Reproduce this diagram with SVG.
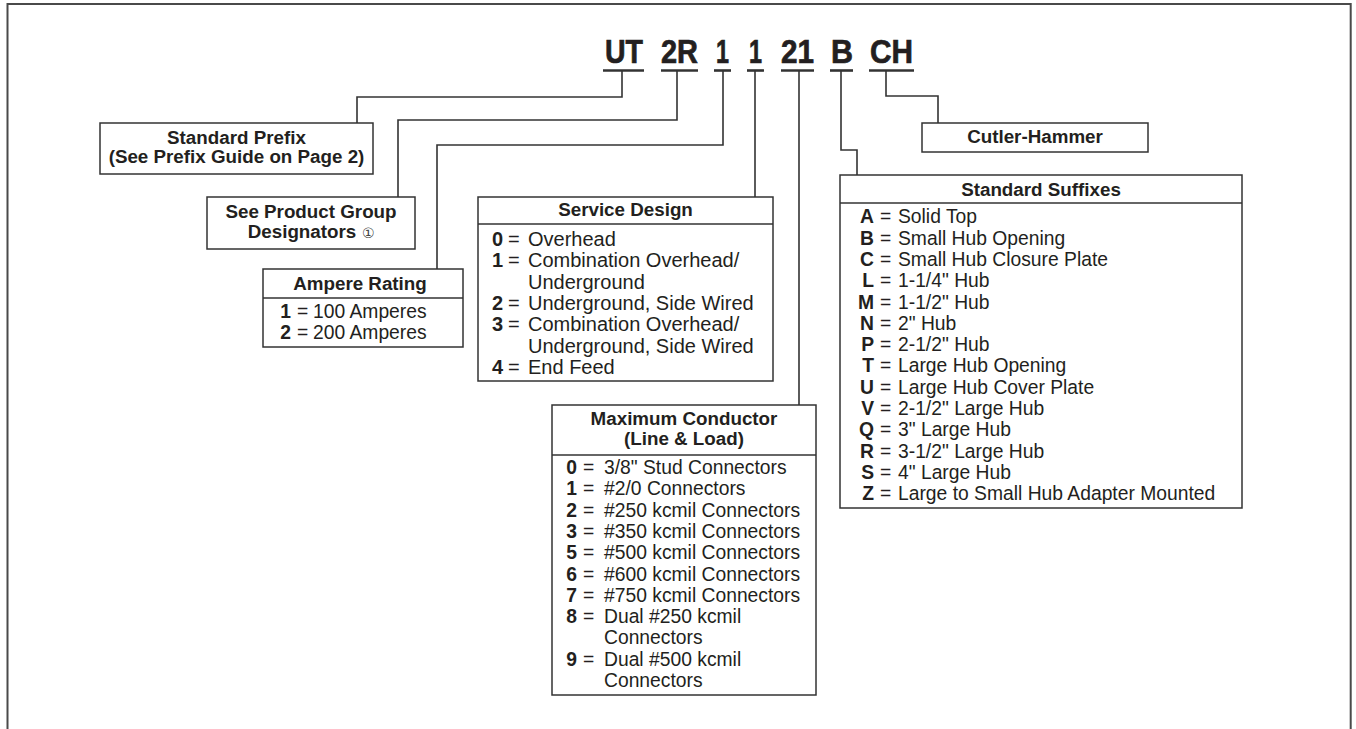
<svg xmlns="http://www.w3.org/2000/svg" width="1356" height="729" viewBox="0 0 1356 729">
<style>
.frame{fill:none;stroke:#4a4a4a;stroke-width:2}
.box{fill:#fff;stroke:#333;stroke-width:1.5}
.div{stroke:#333;stroke-width:1.5}
.conn{fill:none;stroke:#333;stroke-width:1.6}
.ul{stroke:#333;stroke-width:2.6}
.code{font-family:"Liberation Sans",Arial,sans-serif;font-weight:bold;font-size:33px;fill:#231f20;stroke:#231f20;stroke-width:0.7}
.t{font-family:"Liberation Sans",Arial,sans-serif;font-size:19.3px;fill:#231f20}
.sd .t,.sd .k{font-size:20px}
.h{font-family:"Liberation Sans",Arial,sans-serif;font-size:18.8px;font-weight:bold;fill:#231f20;text-anchor:middle}
.k{font-family:"Liberation Sans",Arial,sans-serif;font-size:19.3px;font-weight:bold;fill:#231f20;text-anchor:end}
.c{font-family:"DejaVu Sans",sans-serif;font-size:14px;fill:#444}
</style>
<path class="frame" d="M7.5,729 V4 H1350.7 V729"/>

<g id="code">
<text class="code" x="605" y="63" textLength="38" lengthAdjust="spacingAndGlyphs">UT</text>
<text class="code" x="661" y="63" textLength="37" lengthAdjust="spacingAndGlyphs">2R</text>
<text class="code" x="716" y="63" textLength="13" lengthAdjust="spacingAndGlyphs">1</text>
<text class="code" x="749" y="63" textLength="13" lengthAdjust="spacingAndGlyphs">1</text>
<text class="code" x="781" y="63" textLength="33" lengthAdjust="spacingAndGlyphs">21</text>
<text class="code" x="831" y="63" textLength="22" lengthAdjust="spacingAndGlyphs">B</text>
<text class="code" x="870" y="63" textLength="43" lengthAdjust="spacingAndGlyphs">CH</text>
<line class="ul" x1="603" y1="70.5" x2="644" y2="70.5"/>
<line class="ul" x1="661" y1="70.5" x2="698" y2="70.5"/>
<line class="ul" x1="714" y1="70.5" x2="731" y2="70.5"/>
<line class="ul" x1="747" y1="70.5" x2="764" y2="70.5"/>
<line class="ul" x1="781" y1="70.5" x2="814" y2="70.5"/>
<line class="ul" x1="830" y1="70.5" x2="853" y2="70.5"/>
<line class="ul" x1="869" y1="70.5" x2="914" y2="70.5"/>
</g>

<g id="connectors">
<path class="conn" d="M622,71 V97 H357 V123"/>
<path class="conn" d="M677,71 V120 H398 V197"/>
<path class="conn" d="M723,71 V145 H437 V269"/>
<path class="conn" d="M755,71 V197"/>
<path class="conn" d="M799,71 V405"/>
<path class="conn" d="M841,71 V150 H857 V175"/>
<path class="conn" d="M886,71 V96 H938 V123"/>
</g>

<g id="standard-prefix">
<rect class="box" x="100" y="123" width="273" height="51"/>
<text class="h" x="236.5" y="144">Standard Prefix</text>
<text class="h" x="236.5" y="163">(See Prefix Guide on Page 2)</text>
</g>

<g id="product-group">
<rect class="box" x="207" y="197" width="208" height="52"/>
<text class="h" x="311" y="218">See Product Group</text>
<text class="h" x="302" y="238">Designators</text>
<text class="c" x="362" y="238">①</text>
</g>

<g id="ampere-rating">
<rect class="box" x="263" y="269" width="200" height="78"/>
<line class="div" x1="263" y1="298" x2="463" y2="298"/>
<text class="h" x="360" y="290">Ampere Rating</text>
<text class="k" x="291" y="318">1</text><text class="t" x="297" y="318">=<tspan x="313">100 Amperes</tspan></text>
<text class="k" x="291" y="339">2</text><text class="t" x="297" y="339">=<tspan x="313">200 Amperes</tspan></text>
</g>

<g id="service-design" class="sd">
<rect class="box" x="478" y="197" width="295" height="184"/>
<line class="div" x1="478" y1="224" x2="773" y2="224"/>
<text class="h" x="625.5" y="216">Service Design</text>
<text class="k" x="503" y="246">0</text><text class="t" x="508" y="246">=<tspan x="528">Overhead</tspan></text>
<text class="k" x="503" y="267.3">1</text><text class="t" x="508" y="267.3">=<tspan x="528">Combination Overhead/</tspan></text>
<text class="t" x="528" y="288.7">Underground</text>
<text class="k" x="503" y="310">2</text><text class="t" x="508" y="310">=<tspan x="528">Underground, Side Wired</tspan></text>
<text class="k" x="503" y="331.3">3</text><text class="t" x="508" y="331.3">=<tspan x="528">Combination Overhead/</tspan></text>
<text class="t" x="528" y="352.7">Underground, Side Wired</text>
<text class="k" x="503" y="374">4</text><text class="t" x="508" y="374">=<tspan x="528">End Feed</tspan></text>
</g>

<g id="maximum-conductor">
<rect class="box" x="552" y="405" width="264" height="290"/>
<line class="div" x1="552" y1="455" x2="816" y2="455"/>
<text class="h" x="684" y="425">Maximum Conductor</text>
<text class="h" x="684" y="445">(Line &amp; Load)</text>
<text class="k" x="577" y="474">0</text><text class="t" x="583" y="474">=<tspan x="604">3/8" Stud Connectors</tspan></text>
<text class="k" x="577" y="495.3">1</text><text class="t" x="583" y="495.3">=<tspan x="604">#2/0 Connectors</tspan></text>
<text class="k" x="577" y="516.6">2</text><text class="t" x="583" y="516.6">=<tspan x="604">#250 kcmil Connectors</tspan></text>
<text class="k" x="577" y="537.9">3</text><text class="t" x="583" y="537.9">=<tspan x="604">#350 kcmil Connectors</tspan></text>
<text class="k" x="577" y="559.2">5</text><text class="t" x="583" y="559.2">=<tspan x="604">#500 kcmil Connectors</tspan></text>
<text class="k" x="577" y="580.5">6</text><text class="t" x="583" y="580.5">=<tspan x="604">#600 kcmil Connectors</tspan></text>
<text class="k" x="577" y="601.8">7</text><text class="t" x="583" y="601.8">=<tspan x="604">#750 kcmil Connectors</tspan></text>
<text class="k" x="577" y="623.1">8</text><text class="t" x="583" y="623.1">=<tspan x="604">Dual #250 kcmil</tspan></text>
<text class="t" x="604" y="644.4">Connectors</text>
<text class="k" x="577" y="665.7">9</text><text class="t" x="583" y="665.7">=<tspan x="604">Dual #500 kcmil</tspan></text>
<text class="t" x="604" y="687">Connectors</text>
</g>

<g id="standard-suffixes">
<rect class="box" x="840" y="175" width="402" height="333"/>
<line class="div" x1="840" y1="203" x2="1242" y2="203"/>
<text class="h" x="1041" y="195.5">Standard Suffixes</text>
<text class="k" x="874" y="223.3">A</text><text class="t" x="880" y="223.3">=<tspan x="898">Solid Top</tspan></text>
<text class="k" x="874" y="244.6">B</text><text class="t" x="880" y="244.6">=<tspan x="898">Small Hub Opening</tspan></text>
<text class="k" x="874" y="265.9">C</text><text class="t" x="880" y="265.9">=<tspan x="898">Small Hub Closure Plate</tspan></text>
<text class="k" x="874" y="287.2">L</text><text class="t" x="880" y="287.2">=<tspan x="898">1-1/4" Hub</tspan></text>
<text class="k" x="874" y="308.5">M</text><text class="t" x="880" y="308.5">=<tspan x="898">1-1/2" Hub</tspan></text>
<text class="k" x="874" y="329.8">N</text><text class="t" x="880" y="329.8">=<tspan x="898">2" Hub</tspan></text>
<text class="k" x="874" y="351.1">P</text><text class="t" x="880" y="351.1">=<tspan x="898">2-1/2" Hub</tspan></text>
<text class="k" x="874" y="372.4">T</text><text class="t" x="880" y="372.4">=<tspan x="898">Large Hub Opening</tspan></text>
<text class="k" x="874" y="393.7">U</text><text class="t" x="880" y="393.7">=<tspan x="898">Large Hub Cover Plate</tspan></text>
<text class="k" x="874" y="415">V</text><text class="t" x="880" y="415">=<tspan x="898">2-1/2" Large Hub</tspan></text>
<text class="k" x="874" y="436.3">Q</text><text class="t" x="880" y="436.3">=<tspan x="898">3" Large Hub</tspan></text>
<text class="k" x="874" y="457.6">R</text><text class="t" x="880" y="457.6">=<tspan x="898">3-1/2" Large Hub</tspan></text>
<text class="k" x="874" y="478.9">S</text><text class="t" x="880" y="478.9">=<tspan x="898">4" Large Hub</tspan></text>
<text class="k" x="874" y="500.2">Z</text><text class="t" x="880" y="500.2">=<tspan x="898">Large to Small Hub Adapter Mounted</tspan></text>
</g>

<g id="cutler-hammer">
<rect class="box" x="922" y="123" width="226" height="29"/>
<text class="h" x="1035" y="143.3">Cutler-Hammer</text>
</g>
</svg>
